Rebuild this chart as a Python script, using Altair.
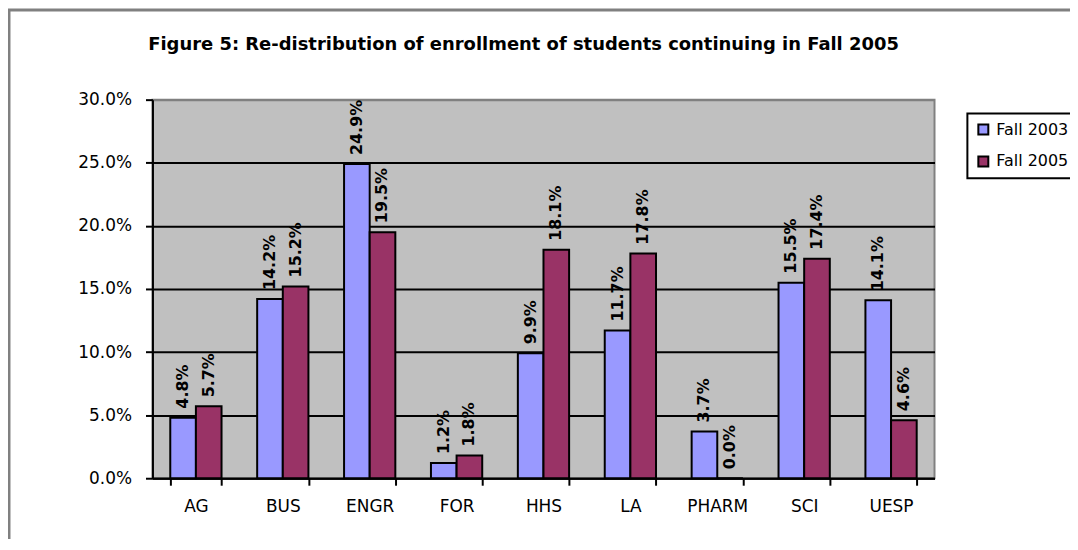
import altair as alt
import pandas as pd

categories = ["AG", "BUS", "ENGR", "FOR", "HHS", "LA", "PHARM", "SCI", "UESP"]
series = ["Fall 2003", "Fall 2005"]
fall_2003 = [4.8, 14.2, 24.9, 1.2, 9.9, 11.7, 3.7, 15.5, 14.1]
fall_2005 = [5.7, 15.2, 19.5, 1.8, 18.1, 17.8, 0.0, 17.4, 4.6]
colors = ["#9999FF", "#993366"]
y_ticks = [0.0, 0.05, 0.10, 0.15, 0.20, 0.25, 0.30]

rows = []
for c, a, b in zip(categories, fall_2003, fall_2005):
    rows.append({"cat": c, "series": series[0], "v": a / 100})
    rows.append({"cat": c, "series": series[1], "v": b / 100})
df = pd.DataFrame(rows)

FONT = "DejaVu Sans"

base = alt.Chart(df).encode(
    x=alt.X(
        "cat:N",
        sort=categories,
        scale=alt.Scale(paddingInner=0.41, paddingOuter=0.205),
        axis=alt.Axis(
            title=None,
            labelAngle=0,
            labelFont=FONT,
            labelFontSize=17,
            labelColor="black",
            labelPadding=13,
            tickBand="extent",
            tickColor="black",
            tickWidth=2,
            tickSize=7,
            domainColor="black",
            domainWidth=2,
        ),
    ),
    xOffset=alt.XOffset(
        "series:N", sort=series, scale=alt.Scale(paddingInner=0, paddingOuter=0)
    ),
    y=alt.Y(
        "v:Q",
        scale=alt.Scale(domain=[0, 0.3], nice=False),
        axis=alt.Axis(
            title=None,
            values=y_ticks,
            format=".1%",
            labelFont=FONT,
            labelFontSize=17,
            labelColor="black",
            labelPadding=14,
            tickColor="black",
            tickWidth=2,
            tickSize=7,
            domainColor="black",
            domainWidth=2,
            grid=True,
            gridColor={"condition": {"test": "datum.value >= 0.29", "value": "#808080"}, "value": "black"},
            gridWidth=2,
            gridOpacity=1,
        ),
    ),
)

bars = base.mark_bar(stroke="black", strokeWidth=2).encode(
    color=alt.Color(
        "series:N",
        sort=series,
        scale=alt.Scale(domain=series, range=colors),
        legend=alt.Legend(
            title=None,
            orient="none",
            legendX=818,
            legendY=14,
            strokeColor="black",
            fillColor="white",
            padding=8,
            symbolType="square",
            symbolSize=100,
            symbolStrokeColor="black",
            symbolStrokeWidth=2,
            labelFont=FONT,
            labelFontSize=16,
            labelColor="black",
            labelOffset=5,
            rowPadding=14,
        ),
    )
)

labels = base.mark_text(
    angle=270,
    align="left",
    baseline="middle",
    dx=9,
    font=FONT,
    fontSize=16,
    fontWeight="bold",
    color="black",
).encode(text=alt.Text("v:Q", format=".1%"))

frame = alt.Chart(pd.DataFrame({"a": [0]})).mark_rect(
    fill="transparent", stroke="#808080", strokeWidth=3
).encode(
    x=alt.value(-144),
    x2=alt.value(1000),
    y=alt.value(-90),
    y2=alt.value(600),
)

chart = (
    alt.layer(frame, bars, labels)
    .properties(
        width=785,
        height=380,
        autosize=alt.AutoSizeParams(type="none"),
        padding={"left": 145, "top": 91, "right": 136, "bottom": 60},
        title=alt.TitleParams(
            "Figure 5: Re-distribution of enrollment of students continuing  in Fall 2005",
            font=FONT,
            fontSize=18,
            fontWeight="bold",
            color="black",
            anchor="middle",
            frame="group",
            baseline="middle",
            offset=0,
            dx=-20,
            dy=55,
        ),
    )
    .configure_view(fill="#C0C0C0", stroke="#808080", strokeWidth=2)
    .configure_legend(strokeWidth=2)
)

chart.save("out.html", embed_options={"renderer": "svg", "actions": False})
